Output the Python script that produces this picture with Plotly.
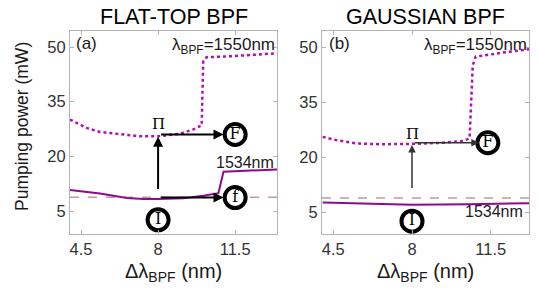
import plotly.graph_objects as go

# ---------------- data ----------------
# (a) flat-top BPF
xa_1550 = [4.0, 4.76, 5.36, 6.27, 7.18, 8.0, 9.0, 9.6, 9.98, 10.05, 10.2, 11.4, 13.4]
ya_1550 = [30.1, 27.8, 26.7, 26.0, 25.5, 25.5, 26.2, 27.4, 28.5, 46.0, 47.2, 47.5, 48.3]
xa_1534 = [4.0, 5.36, 6.58, 7.33, 8.0, 9.15, 10.06, 10.74, 10.97, 13.4]
ya_1534 = [10.8, 9.8, 8.55, 8.3, 8.3, 8.5, 9.2, 9.9, 15.8, 16.4]
# (b) gaussian BPF
xb_1550 = [4.03, 4.66, 5.55, 6.58, 8.0, 9.38, 10.27, 10.56, 10.7, 10.83, 12.04, 13.2]
yb_1550 = [25.5, 24.6, 23.7, 23.5, 23.6, 23.9, 24.4, 25.1, 45.0, 47.4, 48.5, 49.4]
xb_1534 = [4.03, 6.14, 8.0, 10.56, 13.2]
yb_1534 = [7.6, 7.2, 7.0, 7.1, 7.4]
threshold = 8.8

x_ticks = [4.5, 8, 11.5]
y_ticks = [5, 20, 35, 50]

# marker labels (state circles)
a_states_x = [11.5, 11.5, 8.0]
a_states_y = [26.0, 8.7, 2.6]
a_states_t = ["F", "f", "I"]
b_states_x = [11.37, 8.0]
b_states_y = [23.9, 2.5]
b_states_t = ["F", "I"]

MAG = "#b010b0"
PUR = "#8e0a8e"
DASH = "#c09a98"

fig = go.Figure()

def panel(xa, ya, x15, y15, x34, y34, xr):
    fig.add_trace(go.Scatter(x=[xr[0], xr[1]], y=[threshold, threshold], mode="lines",
                             line=dict(color=DASH, width=1.5, dash="dash"),
                             xaxis=xa, yaxis=ya, showlegend=False, hoverinfo="skip"))
    fig.add_trace(go.Scatter(x=x15, y=y15, mode="lines",
                             line=dict(color=MAG, width=2.5, dash="dot"),
                             xaxis=xa, yaxis=ya, showlegend=False))
    fig.add_trace(go.Scatter(x=x34, y=y34, mode="lines",
                             line=dict(color=PUR, width=2),
                             xaxis=xa, yaxis=ya, showlegend=False))

panel("x", "y", xa_1550, ya_1550, xa_1534, ya_1534, [4.0, 13.4])
panel("x2", "y2", xb_1550, yb_1550, xb_1534, yb_1534, [4.0, 13.2])

ann = []

def arrow(xr, yr, x, y, ax, ay, color="black", w=2, head=True):
    ann.append(dict(xref=xr, yref=yr, axref=xr, ayref=yr, x=x, y=y, ax=ax, ay=ay,
                    text=" ", showarrow=True, arrowhead=2 if head else 0,
                    arrowsize=1, arrowwidth=w, arrowcolor=color))

# panel (a) arrows
arrow("x", "y", 8.0, 8.3, 8.0, 5.0)
arrow("x", "y", 8.0, 25.4, 8.0, 8.3)
arrow("x", "y", 10.97, 26.0, 8.0, 26.0)
arrow("x", "y", 10.97, 8.7, 8.0, 8.7)
# panel (b) arrows
arrow("x2", "y2", 8.0, 7.0, 8.0, 5.0, color="#333333", w=1.5, head=False)
arrow("x2", "y2", 8.0, 23.3, 8.0, threshold, color="#333333", w=1.5)
arrow("x2", "y2", 10.97, 23.9, 8.0, 23.9, color="#333333", w=1.5)

for xs, ys, ts, xa, ya in [(a_states_x, a_states_y, a_states_t, "x", "y"),
                           (b_states_x, b_states_y, b_states_t, "x2", "y2")]:
    fig.add_trace(go.Scatter(x=xs, y=ys, text=ts, mode="markers+text",
                             marker=dict(symbol="circle", size=21, color="white",
                                         line=dict(color="black", width=4)),
                             textposition="middle center",
                             textfont=dict(family="DejaVu Serif", size=16, color="black"),
                             xaxis=xa, yaxis=ya, showlegend=False, cliponaxis=False))

TXT = dict(family="Liberation Sans, Arial, sans-serif", color="#1a1a1a")
SER = dict(family="DejaVu Serif", size=15, color="black")

def note(xr, yr, x, y, text, font, xanchor="center", **kw):
    d = dict(xref=xr, yref=yr, x=x, y=y, text=text, showarrow=False, font=font,
             xanchor=xanchor, yanchor="middle")
    d.update(kw)
    ann.append(d)

note("x", "y", 8.0, 28.9, "\u03a0", SER)
note("x2", "y2", 8.0, 26.4, "\u03a0", SER)
note("x", "y", 4.77, 51.0, "(a)", dict(TXT, size=17))
note("x2", "y2", 4.77, 51.0, "(b)", dict(TXT, size=17))
note("x", "y", 13.38, 50.2, "\u03bb<sub>BPF</sub>=1550nm", dict(TXT, size=17), xanchor="right")
note("x2", "y2", 13.18, 50.2, "\u03bb<sub>BPF</sub>=1550nm", dict(TXT, size=17), xanchor="right")
note("x", "y", 13.35, 18.2, "1534nm", dict(TXT, size=16), xanchor="right")
note("x2", "y2", 13.0, 5.2, "1534nm", dict(TXT, size=16), xanchor="right")
note("paper", "paper", 173.5/539, 1-17/297, "FLAT-TOP BPF", dict(TXT, size=21.5, color="black"))
note("paper", "paper", 425.5/539, 1-17/297, "GAUSSIAN BPF", dict(TXT, size=21.5, color="black"))
note("paper", "paper", 173.5/539, 1-272/297, "\u0394\u03bb<sub>BPF</sub> (nm)", dict(TXT, size=20))
note("paper", "paper", 425.5/539, 1-272/297, "\u0394\u03bb<sub>BPF</sub> (nm)", dict(TXT, size=20))
note("paper", "paper", 22/539, 1-127/297, "Pumping power (mW)", dict(TXT, size=17.5), textangle=-90)

ax_common = dict(showline=True, linecolor="#b4b4b4", linewidth=1, mirror="ticks",
                 ticks="inside", ticklen=4, tickcolor="#b4b4b4", showgrid=False, zeroline=False,
                 automargin=False,
                 tickfont=dict(family="Liberation Sans, Arial, sans-serif", size=16.5, color="#333333"))
ydom = [1 - 234/297, 1 - 31/297]
fig.update_layout(
    template="none",
    width=539, height=297, margin=dict(l=0, r=0, t=0, b=0, pad=0, autoexpand=False),
    paper_bgcolor="white", plot_bgcolor="white",
    xaxis=dict(ax_common, domain=[70/539, 277/539], range=[4.0, 13.4], tickvals=x_ticks,
               ticktext=[str(v) for v in x_ticks], anchor="y"),
    yaxis=dict(ax_common, domain=ydom, range=[-1.3, 54.4], tickvals=y_ticks, anchor="x"),
    xaxis2=dict(ax_common, domain=[322/539, 529/539], range=[4.0, 13.2], tickvals=x_ticks,
                ticktext=[str(v) for v in x_ticks], anchor="y2"),
    yaxis2=dict(ax_common, domain=ydom, range=[-1.0, 54.4], tickvals=y_ticks, anchor="x2"),
    annotations=ann,
)

fig.write_html("out.html", config={"displayModeBar": False},
               post_script="document.body.style.margin='0';document.body.style.overflow='hidden';")
